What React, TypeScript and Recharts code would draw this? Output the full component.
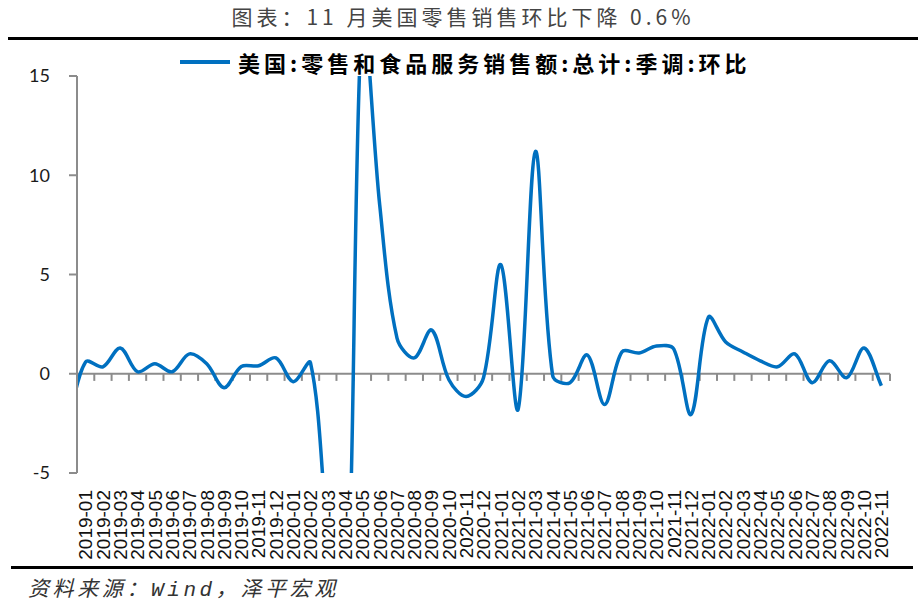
import { LineChart, Line, XAxis, YAxis, ReferenceLine, Legend } from 'recharts';

const months = [
  '2019-01', '2019-02', '2019-03', '2019-04', '2019-05', '2019-06', '2019-07', '2019-08', '2019-09', '2019-10', '2019-11', '2019-12',
  '2020-01', '2020-02', '2020-03', '2020-04', '2020-05', '2020-06', '2020-07', '2020-08', '2020-09', '2020-10', '2020-11', '2020-12',
  '2021-01', '2021-02', '2021-03', '2021-04', '2021-05', '2021-06', '2021-07', '2021-08', '2021-09', '2021-10', '2021-11', '2021-12',
  '2022-01', '2022-02', '2022-03', '2022-04', '2022-05', '2022-06', '2022-07', '2022-08', '2022-09', '2022-10', '2022-11',
];

// 环比, %
const momChange = [
  0.6, 0.35, 1.3, 0.1, 0.5, 0.1, 1.0, 0.5, -0.7, 0.37, 0.4, 0.8,
  -0.4, 0.55, -8.2, -14.7, 18.3, 8.5, 1.8, 0.8, 2.2, -0.3, -1.15, -0.2,
  5.5, -1.8, 11.2, -0.1, -0.45, 0.95, -1.55, 1.1, 1.05, 1.4, 1.25, -2.05,
  2.85, 1.6, 1.1, 0.65, 0.35, 1.0, -0.45, 0.65, -0.2, 1.3, -0.6,
];

// 2018-12: only the tail of it shows at the left edge of the plot
const priorMonth = -2.4;

const yTicks = [-5, 0, 5, 10, 15];
const seriesName = '美国:零售和食品服务销售额:总计:季调:环比';

const data = [
  { idx: -1, value: priorMonth },
  ...momChange.map((value, idx) => ({ idx, value })),
];
const labelIdx = months.map((_, i) => i);
const boundaries = months.map((_, i) => i + 0.5);

// excel style smoothed line: bezier, tangent split by neighbouring segment lengths
function excelSmooth(context: any) {
  let xs: number[] = [];
  let ys: number[] = [];
  return {
    areaStart() {},
    areaEnd() {},
    lineStart() {
      xs = [];
      ys = [];
    },
    point(x: number, y: number) {
      xs.push(+x);
      ys.push(+y);
    },
    lineEnd() {
      const n = xs.length;
      if (!n) return;
      const dist = (i: number, j: number) => Math.hypot(xs[j] - xs[i], ys[j] - ys[i]);
      // control points out of / into each point
      const outX: number[] = [], outY: number[] = [], inX: number[] = [], inY: number[] = [];
      for (let i = 0; i < n; i++) {
        const a = Math.max(i - 1, 0);
        const b = Math.min(i + 2 - 1, n - 1);
        const tx = xs[b] - xs[a];
        const ty = ys[b] - ys[a];
        const d1 = dist(a, i);
        const d2 = dist(i, b);
        const sum = d1 + d2 || 1;
        outX[i] = xs[i] + (tx * d2) / sum / 3;
        outY[i] = ys[i] + (ty * d2) / sum / 3;
        inX[i] = xs[i] - (tx * d1) / sum / 3;
        inY[i] = ys[i] - (ty * d1) / sum / 3;
      }
      context.moveTo(xs[0], ys[0]);
      for (let i = 0; i < n - 1; i++) {
        context.bezierCurveTo(outX[i], outY[i], inX[i + 1], inY[i + 1], xs[i + 1], ys[i + 1]);
      }
    },
  };
}

const MonthTick = ({ x, y, payload }: any) => (
  <text
    x={x}
    y={y}
    dy="0.36em"
    transform={`rotate(-90, ${x}, ${y})`}
    textAnchor="end"
    fill="#111"
    fontSize={19}
    fontFamily="'Liberation Sans', Arial, sans-serif"
  >
    {months[payload.value]}
  </text>
);

const LegendContent = ({ payload }: any) => (
  <div style={{ display: 'flex', alignItems: 'center', whiteSpace: 'nowrap' }}>
    <svg width={52} height={8}>
      <line x1={0} y1={4} x2={50} y2={4} stroke="#0070C0" strokeWidth={4} />
    </svg>
    <span
      style={{
        marginLeft: 6,
        fontFamily: "'Noto Sans CJK SC', sans-serif",
        fontWeight: 700,
        fontSize: 22,
        letterSpacing: 4,
        color: '#000',
      }}
    >
      {payload && payload[0] ? payload[0].value : seriesName}
    </span>
  </div>
);

export default function App() {
  return (
    <div style={{ position: 'absolute', left: 0, top: 0, width: 924, height: 613, background: '#fff' }}>
      <div
        style={{
          position: 'absolute',
          top: 3,
          left: 0,
          width: 926,
          textAlign: 'center',
          fontFamily: "'Noto Sans CJK SC', sans-serif",
          fontSize: 21,
          lineHeight: '26px',
          letterSpacing: 4,
          color: '#444',
        }}
      >
        图表：11 月美国零售销售环比下降 0.6%
      </div>
      <div style={{ position: 'absolute', top: 37, left: 8, width: 910, height: 3, background: '#000' }} />

      <LineChart
        width={924}
        height={613}
        data={data}
        margin={{ top: 76, right: 34, bottom: 0, left: 17 }}
      >
        <XAxis
          type="number"
          dataKey="idx"
          domain={[-0.5, 46.5]}
          allowDataOverflow
          ticks={labelIdx}
          interval={0}
          tick={<MonthTick />}
          tickLine={false}
          axisLine={false}
          tickSize={0}
          tickMargin={17}
          height={140}
        />
        <YAxis
          type="number"
          domain={[-5, 15]}
          allowDataOverflow
          ticks={yTicks}
          width={60}
          tickSize={8}
          tickMargin={19}
          axisLine={{ stroke: '#8c8c8c', strokeWidth: 2 }}
          tickLine={{ stroke: '#8c8c8c', strokeWidth: 2 }}
          tick={{ fill: '#1a1a1a', fontSize: 18, fontFamily: 'Lato, sans-serif' }}
        />
        <ReferenceLine y={0} stroke="#8c8c8c" strokeWidth={2} />
        {boundaries.map((b) => (
          <ReferenceLine
            key={b}
            segment={[{ x: b, y: 0 }, { x: b, y: -0.36 }]}
            stroke="#8c8c8c"
            strokeWidth={2}
          />
        ))}
        <Legend
          verticalAlign="middle"
          align="center"
          content={<LegendContent />}
          wrapperStyle={{ top: 46, left: 180, width: 'auto' }}
        />
        <Line
          type={excelSmooth as any}
          dataKey="value"
          name={seriesName}
          stroke="#0070C0"
          strokeWidth={3.5}
          dot={false}
          activeDot={false}
          isAnimationActive={false}
        />
      </LineChart>

      <div style={{ position: 'absolute', top: 566, left: 11, width: 902, height: 3, background: '#000' }} />
      <div
        style={{
          position: 'absolute',
          top: 578,
          left: 28,
          fontFamily: "'Liberation Mono', 'Noto Sans CJK SC', monospace",
          fontStyle: 'italic',
          fontSize: 21,
          lineHeight: '26px',
          letterSpacing: 3.6,
          color: '#333',
          whiteSpace: 'nowrap',
        }}
      >
        资料来源：Wind，泽平宏观
      </div>
    </div>
  );
}
